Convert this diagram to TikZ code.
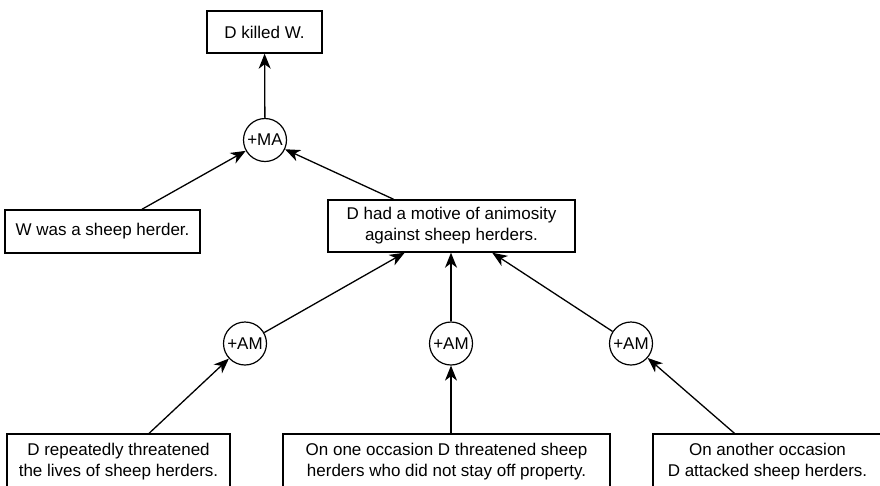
\documentclass[tikz,border=0pt]{standalone}
\usepackage{fontspec}
\setmainfont{Liberation Sans}
\usetikzlibrary{arrows.meta}
\begin{document}
\begin{tikzpicture}[x=1pt,y=-1pt,
  every node/.style={font=\fontsize{17}{21}\selectfont, inner sep=0pt, align=center},
  claim/.style={draw, line width=1.4pt, rectangle},
  scheme/.style={draw, line width=1.2pt, circle, minimum size=43pt},
  support/.style={line width=1.3pt, -{Stealth[length=15pt,width=12pt,inset=4.5pt]}}]
\useasboundingbox (0,0) rectangle (880,485);
\fill[white] (0,0) rectangle (880,485);

% conclusion
\node[claim, minimum width=115pt, minimum height=42pt] (killed) at (264.5,32) {D killed W.};
% motive argument
\node[scheme] (ma) at (265,140) {+MA};
\node[claim, minimum width=195pt, minimum height=43pt] (herder) at (102.5,231.5) {W was a sheep herder.};
\node[claim, minimum width=247pt, minimum height=52pt] (motive) at (451.5,226) {D had a motive of animosity\\against sheep herders.};
% animosity schemes
\node[scheme] (am1) at (245,343.5) {+AM};
\node[scheme] (am2) at (451,343.5) {+AM};
\node[scheme] (am3) at (631,343.5) {+AM};
% evidence
\node[claim, minimum width=223pt, minimum height=56pt] (ev1) at (118.5,462) {D repeatedly threatened\\the lives of sheep herders.};
\node[claim, minimum width=327pt, minimum height=56pt] (ev2) at (446.5,462) {On one occasion D threatened sheep\\herders who did not stay off property.};
\node[claim, minimum width=229pt, minimum height=56pt] (ev3) at (767.5,462) {On another occasion\\D attacked sheep herders.};

% connectors
\draw[support] (ma) -- (killed);
\draw[support] (herder) -- (ma);
\draw[support] (motive) -- (ma);
\draw[support] (am1) -- (motive);
\draw[support] (am2) -- (am2 |- motive.south);
\draw[support] (am3) -- (motive);
\draw[support] (ev1) -- (am1);
\draw[support] (ev2.north -| am2) -- (am2);
\draw[support] (ev3) -- (am3);
\end{tikzpicture}
\end{document}
